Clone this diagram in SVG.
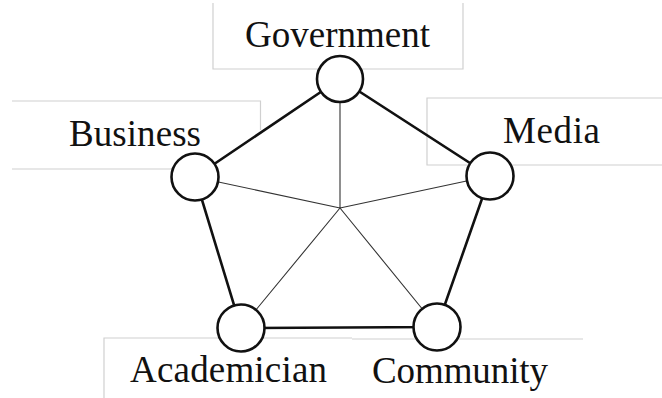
<svg xmlns="http://www.w3.org/2000/svg" width="662" height="398" viewBox="0 0 662 398">
<style>
.box{fill:none;stroke:#d0d0d0;stroke-width:1.2}
.lbl{font-family:"Liberation Serif","Times New Roman",serif;font-size:37px;fill:#111}
.edge{stroke:#111;stroke-width:2.6;fill:none}
.spoke{stroke:#333;stroke-width:1.1;fill:none}
.node{fill:#fff;stroke:#111;stroke-width:2.6}
</style>
<rect width="662" height="398" fill="#fff"/>
<g id="label-boxes">
<path class="box" d="M213,3 V69 H463 V3"/>
<path class="box" d="M12,101 H260.5 V130 M12,169 H200"/>
<path class="box" d="M662,98 H427 V165 H662"/>
<path class="box" d="M104,398 V338 H352"/>
<path class="box" d="M352,339 H583"/>
</g>
<g id="connectors">
<path class="edge" d="M340,79 L195,177 L241,328 L437,327 L490,176 Z"/>
<path class="spoke" d="M340,208 L340,79 M340,208 L195,177 M340,208 L241,328 M340,208 L437,327 M340,208 L490,176"/>
</g>
<g id="government"><circle class="node" cx="340" cy="79" r="23"/><text class="lbl" x="245" y="47" textLength="185" lengthAdjust="spacing">Government</text></g>
<g id="business"><circle class="node" cx="195" cy="177" r="23.5"/><text class="lbl" x="69" y="146" textLength="132" lengthAdjust="spacing">Business</text></g>
<g id="media"><circle class="node" cx="490" cy="176" r="23.5"/><text class="lbl" x="503" y="143" textLength="97" lengthAdjust="spacing">Media</text></g>
<g id="academician"><circle class="node" cx="241" cy="328" r="23.5"/><text class="lbl" x="130" y="382" textLength="197" lengthAdjust="spacing">Academician</text></g>
<g id="community"><circle class="node" cx="437" cy="327" r="23.5"/><text class="lbl" x="372" y="383" textLength="176" lengthAdjust="spacing">Community</text></g>
</svg>
